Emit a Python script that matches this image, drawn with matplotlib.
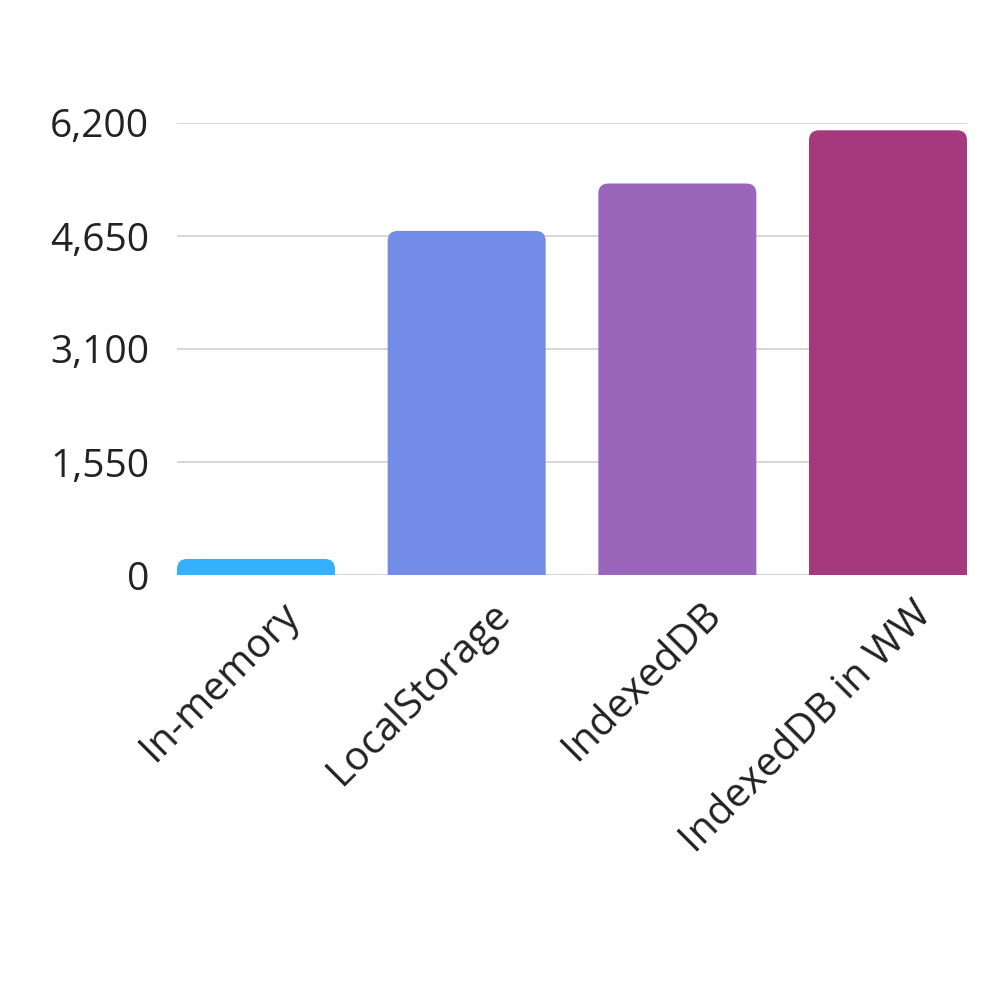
import matplotlib
matplotlib.use("Agg")
import matplotlib.pyplot as plt
from matplotlib.patches import FancyBboxPatch
from matplotlib.transforms import ScaledTranslation

categories = ["In-memory", "LocalStorage", "IndexedDB", "IndexedDB in WW"]
values = [220, 4720, 5370, 6100]
colors = ["#33B1FF", "#728CE8", "#9966BB", "#A6387E"]
yticks = [0, 1550, 3100, 4650, 6200]
ytick_labels = ["0", "1,550", "3,100", "4,650", "6,200"]

plt.rcParams['font.family'] = ['Open Sans', 'DejaVu Sans']

fig = plt.figure(figsize=(10, 10), dpi=100)
ax = fig.add_axes([0.177, 0.425, 0.79, 0.452])
width = 0.75
x = list(range(len(categories)))
bars = ax.bar(x, values, width=width, color=colors)
ax.set_xlim(-width / 2, len(categories) - 1 + width / 2)
ax.set_ylim(0, 6200)

# rounded top corners
fig.canvas.draw()
p0 = ax.transData.transform((0, 0))
p1 = ax.transData.transform((1, 1))
px_x = p1[0] - p0[0]
px_y = p1[1] - p0[1]
aspect = px_x / px_y
r_px = 10
r = r_px / px_x
for b in bars:
    bx, by = b.get_x(), b.get_y()
    bw, bh = b.get_width(), b.get_height()
    ext = r * aspect * 2
    patch = FancyBboxPatch((bx, by - ext), bw, bh + ext,
                           boxstyle=f"round,pad=0,rounding_size={r}",
                           mutation_aspect=aspect,
                           facecolor=b.get_facecolor(), edgecolor='none',
                           clip_on=True, zorder=2)
    ax.add_patch(patch)
    b.set_visible(False)

ax.set_yticks(yticks)
ax.set_yticklabels(ytick_labels, fontsize=28, color="#222222")
ax.yaxis.grid(True, color="#d0d0d0", linewidth=1.2)
ax.set_axisbelow(True)
ax.tick_params(axis='y', length=0, pad=20)
ax.tick_params(axis='x', length=0, pad=14)
for s in ax.spines.values():
    s.set_visible(False)

ax.set_xticks(x)
ax.set_xticklabels(categories, fontsize=29, color="#222222", rotation=45,
                   ha='right', va='top')
offset = ScaledTranslation(52 / 100, 0, fig.dpi_scale_trans)
for lbl in ax.get_xticklabels():
    lbl.set_transform(lbl.get_transform() + offset)

fig.savefig("out.png", dpi=100, facecolor="white")
